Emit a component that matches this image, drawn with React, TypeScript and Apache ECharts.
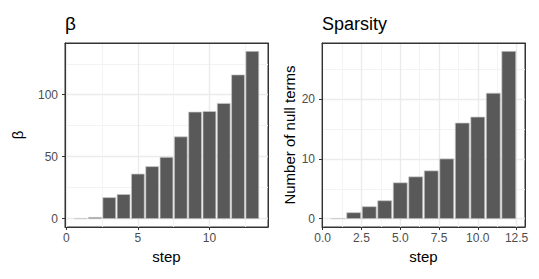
import React, { useEffect, useRef } from "react";
import * as echarts from "echarts";

const betaSteps = [1, 2, 3, 4, 5, 6, 7, 8, 9, 10, 11, 12, 13];
const betaValues = [0, 1, 17, 19.5, 36, 42, 49.5, 66, 86, 86.5, 93, 116, 135];
const betaXTicks = [0, 5, 10];
const betaXMinor = [2.5, 7.5, 12.5];
const betaYTicks = [0, 50, 100];
const betaYMinor = [25, 75, 125];

const sparSteps = [1, 2, 3, 4, 5, 6, 7, 8, 9, 10, 11, 12];
const sparValues = [0, 1, 2, 3, 6, 7, 8, 10, 16, 17, 21, 28];
const sparXTicks = [0, 2.5, 5, 7.5, 10, 12.5];
const sparXMinor = [1.25, 3.75, 6.25, 8.75, 11.25];
const sparYTicks = [0, 10, 20];
const sparYMinor = [5, 15, 25];

const FONT = "'Liberation Sans', Arial, Helvetica, sans-serif";
const BAR_W = 0.9;

function xExtent(steps: number[]) {
  const lo = Math.min(...steps) - BAR_W / 2;
  const hi = Math.max(...steps) + BAR_W / 2;
  const pad = (hi - lo) * 0.05;
  return [lo - pad, hi + pad];
}
function yExtent(vals: number[]) {
  const lo = Math.min(0, ...vals);
  const hi = Math.max(...vals);
  const pad = (hi - lo) * 0.05;
  return [lo - pad, hi + pad];
}

export default function App() {
  const ref = useRef<HTMLDivElement>(null);
  useEffect(() => {
    document.body.style.margin = "0";
    const chart = echarts.init(ref.current!, null, { renderer: "svg" });
    const bx = xExtent(betaSteps);
    const by = yExtent(betaValues);
    const sx = xExtent(sparSteps);
    const sy = yExtent(sparValues);

    const majorX = (grid: number, ext: number[], ticks: number[], name: string, fmt: (v: number) => string) => ({
      type: "value",
      gridIndex: grid,
      min: ext[0],
      max: ext[1],
      position: "bottom",
      axisLine: { show: true, onZero: false, lineStyle: { color: "#333333", width: 1 } },
      axisTick: { show: true, length: 3, customValues: ticks, lineStyle: { color: "#333333", width: 1 } },
      axisLabel: { customValues: ticks, margin: 5, color: "#4D4D4D", fontSize: 12, fontFamily: FONT, formatter: fmt },
      splitLine: { show: true, lineStyle: { color: "#EBEBEB", width: 1.4 } },
      name,
      nameLocation: "middle",
      nameGap: 20,
      nameTextStyle: { color: "#000", fontSize: 15, fontFamily: FONT },
    });
    const minorX = (grid: number, ext: number[], ticks: number[]) => ({
      type: "value",
      gridIndex: grid,
      min: ext[0],
      max: ext[1],
      position: "top",
      axisLine: { show: true, onZero: false, lineStyle: { color: "#333333", width: 1 } },
      axisTick: { show: false, customValues: ticks },
      axisLabel: { show: false, customValues: ticks },
      splitLine: { show: true, lineStyle: { color: "#F3F3F3", width: 1 } },
    });
    const majorY = (grid: number, ext: number[], ticks: number[], name: string, gap: number) => ({
      type: "value",
      gridIndex: grid,
      min: ext[0],
      max: ext[1],
      position: "left",
      axisLine: { show: true, onZero: false, lineStyle: { color: "#333333", width: 1 } },
      axisTick: { show: true, length: 3, customValues: ticks, lineStyle: { color: "#333333", width: 1 } },
      axisLabel: { customValues: ticks, margin: 7, color: "#4D4D4D", fontSize: 12, fontFamily: FONT },
      splitLine: { show: true, lineStyle: { color: "#EBEBEB", width: 1.4 } },
      name,
      nameLocation: "middle",
      nameGap: gap,
      nameTextStyle: { color: "#000", fontSize: 15, fontFamily: FONT },
    });
    const minorY = (grid: number, ext: number[], ticks: number[]) => ({
      type: "value",
      gridIndex: grid,
      min: ext[0],
      max: ext[1],
      position: "right",
      axisLine: { show: true, onZero: false, lineStyle: { color: "#333333", width: 1 } },
      axisTick: { show: false, customValues: ticks },
      axisLabel: { show: false, customValues: ticks },
      splitLine: { show: true, lineStyle: { color: "#F3F3F3", width: 1 } },
    });

    const renderBar = (params: any, api: any) => {
      const x = api.value(0);
      const y = api.value(1);
      const p0 = api.coord([x - BAR_W / 2, y]);
      const p1 = api.coord([x + BAR_W / 2, 0]);
      return {
        type: "rect",
        shape: { x: p0[0], y: p0[1], width: p1[0] - p0[0], height: p1[1] - p0[1] },
        style: { fill: "#595959", stroke: "#C8C8C8", lineWidth: 0.7 },
      };
    };

    chart.setOption({
      animation: false,
      backgroundColor: "#FFFFFF",
      title: [
        { text: "β", left: 65, top: 14, padding: 0, textStyle: { fontSize: 19, fontWeight: "normal", color: "#000", fontFamily: FONT } },
        { text: "Sparsity", left: 322, top: 15, padding: 0, textStyle: { fontSize: 18, fontWeight: "normal", color: "#000", fontFamily: FONT } },
      ],
      grid: [
        { left: 65, top: 43, width: 203, height: 184, show: true, borderColor: "#333333", borderWidth: 1, backgroundColor: "transparent" },
        { left: 322, top: 43, width: 203, height: 184, show: true, borderColor: "#333333", borderWidth: 1, backgroundColor: "transparent" },
      ],
      xAxis: [
        majorX(0, bx, betaXTicks, "step", (v: number) => String(v)),
        minorX(0, bx, betaXMinor),
        majorX(1, sx, sparXTicks, "step", (v: number) => v.toFixed(1)),
        minorX(1, sx, sparXMinor),
      ],
      yAxis: [
        majorY(0, by, betaYTicks, "β", 40),
        minorY(0, by, betaYMinor),
        majorY(1, sy, sparYTicks, "Number of null terms", 25),
        minorY(1, sy, sparYMinor),
      ],
      series: [
        {
          type: "custom",
          xAxisIndex: 0,
          yAxisIndex: 0,
          renderItem: renderBar,
          encode: { x: 0, y: 1 },
          data: betaSteps.map((s, i) => [s, betaValues[i]]),
          z: 5,
        },
        {
          type: "custom",
          xAxisIndex: 2,
          yAxisIndex: 2,
          renderItem: renderBar,
          encode: { x: 0, y: 1 },
          data: sparSteps.map((s, i) => [s, sparValues[i]]),
          z: 5,
        },
      ],
    });
    return () => chart.dispose();
  }, []);
  return <div ref={ref} style={{ width: 539, height: 279 }} />;
}
